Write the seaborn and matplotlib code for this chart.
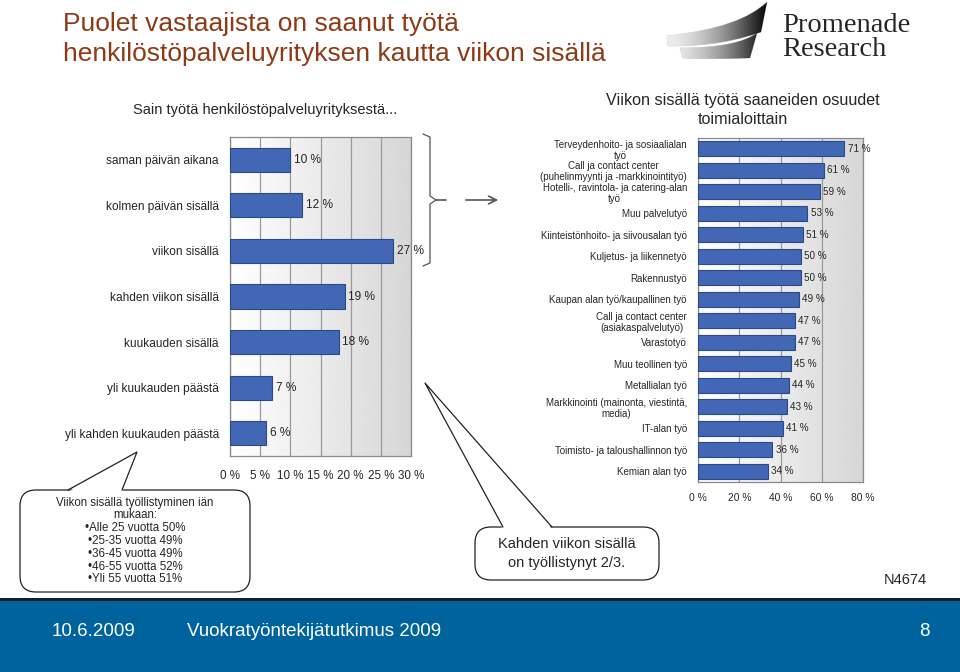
import numpy as np
import pandas as pd
import seaborn as sns
import matplotlib.pyplot as plt
from matplotlib import font_manager
from matplotlib.patches import FancyBboxPatch, Polygon, Rectangle, PathPatch
from matplotlib.path import Path

# Left chart data
time_labels = ["saman päivän aikana", "kolmen päivän sisällä", "viikon sisällä",
               "kahden viikon sisällä", "kuukauden sisällä", "yli kuukauden päästä",
               "yli kahden kuukauden päästä"]
time_values = [10, 12, 27, 19, 18, 7, 6]
time_ticks = [0, 5, 10, 15, 20, 25, 30]

# Right chart data
branch_labels = ["Terveydenhoito- ja sosiaalialan\ntyö",
                 "Call ja contact center\n(puhelinmyynti ja -markkinointityö)",
                 "Hotelli-, ravintola- ja catering-alan\ntyö",
                 "Muu palvelutyö",
                 "Kiinteistönhoito- ja siivousalan työ",
                 "Kuljetus- ja liikennetyö",
                 "Rakennustyö",
                 "Kaupan alan työ/kaupallinen työ",
                 "Call ja contact center\n(asiakaspalvelutyö)",
                 "Varastotyö",
                 "Muu teollinen työ",
                 "Metallialan työ",
                 "Markkinointi (mainonta, viestintä,\nmedia)",
                 "IT-alan työ",
                 "Toimisto- ja taloushallinnon työ",
                 "Kemian alan työ"]
branch_values = [71, 61, 59, 53, 51, 50, 50, 49, 47, 47, 45, 44, 43, 41, 36, 34]
branch_ticks = [0, 20, 40, 60, 80]

age_lines = ["Viikon sisällä työllistyminen iän", "mukaan:", "•Alle 25 vuotta 50%",
             "•25-35 vuotta 49%", "•36-45 vuotta 49%", "•46-55 vuotta 52%",
             "•Yli 55 vuotta 51%"]

BAR = "#4167B5"
EDGE = "#2A4A8A"
TITLE = "#8E3A17"

sns.set_style("white")
names = {f.name for f in font_manager.fontManager.ttflist}
narrow = "Liberation Sans Narrow" if "Liberation Sans Narrow" in names else "Liberation Sans"
plt.rcParams["font.family"] = ["Liberation Sans", "DejaVu Sans"]

fig = plt.figure(figsize=(9.6, 6.72), dpi=100)


def style_axes(ax, values, labels, ticks, xmax, label_size, val_size, tick_size, bar_w):
    df = pd.DataFrame({"label": labels, "value": values})
    sns.barplot(data=df, x="value", y="label", orient="h", ax=ax, color=BAR,
                edgecolor=EDGE, linewidth=0.8, width=bar_w, saturation=1, zorder=3)
    grad = np.linspace(1.0, 0.84, 256).reshape(1, -1)
    ax.imshow(grad, extent=[0, 1, 0, 1], transform=ax.transAxes, aspect="auto",
              cmap="gray", vmin=0, vmax=1, zorder=0)
    n = len(labels)
    ax.set_xlim(0, xmax)
    ax.set_ylim(n - 0.5, -0.5)
    ax.set_xticks(ticks)
    ax.set_xticklabels([f"{t} %" for t in ticks], fontsize=tick_size)
    for v in ticks:
        ax.axvline(v, color="#9a9a9a", linewidth=0.9, zorder=1)
    ax.set_yticks(range(n))
    ax.set_yticklabels(labels, fontsize=label_size, multialignment="center",
                       linespacing=1.1)
    ax.set_yticks(np.arange(n + 1) - 0.5, minor=True)
    ax.tick_params(axis="y", which="major", length=0, pad=8)
    ax.tick_params(axis="y", which="minor", length=4, color="#888888", direction="out")
    ax.tick_params(axis="x", length=4, color="#888888", direction="out", pad=6)
    ax.set_xlabel("")
    ax.set_ylabel("")
    for s in ax.spines.values():
        s.set_color("#8a8a8a")
        s.set_linewidth(0.9)
    for i, v in enumerate(values):
        ax.text(v + xmax * 0.02, i, f"{v} %", va="center", ha="left",
                fontsize=val_size, zorder=4)


ax1 = fig.add_axes([230 / 960, 1 - 456 / 672, 181 / 960, 319 / 672])
style_axes(ax1, time_values, time_labels, time_ticks, 30, 8.6, 8.6, 8.4, 0.53)

ax2 = fig.add_axes([698 / 960, 1 - 482 / 672, 165 / 960, 344 / 672])
style_axes(ax2, branch_values, branch_labels, branch_ticks, 80, 7.0, 7.1, 7.4, 0.7)
ax2.tick_params(axis="x", pad=4)

# overlay in pixel coordinates
ov = fig.add_axes([0, 0, 1, 1], zorder=10)
ov.set_xlim(0, 960)
ov.set_ylim(672, 0)
ov.axis("off")
ov.patch.set_alpha(0)

ov.text(63, 24, "Puolet vastaajista on saanut työtä", color=TITLE, fontsize=19,
        family=[narrow, "DejaVu Sans"], va="center")
ov.text(63, 54, "henkilöstöpalveluyrityksen kautta viikon sisällä", color=TITLE,
        fontsize=19, family=[narrow, "DejaVu Sans"], va="center")
ov.text(265, 110, "Sain työtä henkilöstöpalveluyrityksestä...", fontsize=10.5,
        ha="center", va="center", family=[narrow, "DejaVu Sans"])
ov.text(743, 101, "Viikon sisällä työtä saaneiden osuudet", fontsize=11.6,
        ha="center", va="center", family=[narrow, "DejaVu Sans"])
ov.text(743, 120, "toimialoittain", fontsize=11.6,
        ha="center", va="center", family=[narrow, "DejaVu Sans"])

# logo
top = Path([(667, 36), (720, 30), (750, 18), (767, 2), (761, 32), (725, 45), (690, 46),
            (668, 46), (667, 36)],
           [Path.MOVETO, Path.CURVE4, Path.CURVE4, Path.CURVE4, Path.LINETO,
            Path.CURVE4, Path.CURVE4, Path.CURVE4, Path.CLOSEPOLY])
bot = Path([(680, 48), (720, 48), (745, 42), (757, 33), (750, 58), (720, 59), (700, 59),
            (683, 58), (680, 48)],
           [Path.MOVETO, Path.CURVE4, Path.CURVE4, Path.CURVE4, Path.LINETO,
            Path.CURVE4, Path.CURVE4, Path.CURVE4, Path.CLOSEPOLY])
t = np.linspace(0, 1, 256)
lg = (0.93 - 0.93 * t ** 1.7).reshape(1, -1)
for p in (top, bot):
    pp = PathPatch(p, facecolor="none", edgecolor="#c8c8c8", linewidth=0.5)
    ov.add_patch(pp)
    im = ov.imshow(lg, extent=[665, 768, 62, 0], cmap="gray", vmin=0, vmax=1,
                   aspect="auto", zorder=5)
    im.set_clip_path(pp)
ov.set_xlim(0, 960)
ov.set_ylim(672, 0)
ov.text(782, 25, "Promenade", fontsize=20.5, family=["Liberation Serif", "DejaVu Serif"],
        va="center")
ov.text(782, 50, "Research", fontsize=20.5, family=["Liberation Serif", "DejaVu Serif"],
        va="center")

# bracket and arrow
ov.plot([423, 430, 430, 436, 430, 430, 423], [134, 137, 196, 200, 204, 263, 266],
        color="#555555", linewidth=0.9)
ov.plot([436, 446], [200, 200], color="#555555", linewidth=1.2)
ov.annotate("", xy=(501, 200), xytext=(463, 200),
            arrowprops=dict(arrowstyle="->", color="#555555", lw=1.2, mutation_scale=14))


def bubble(x0, y0, x1, y1, apex, b0, b1, lines, size, spacing):
    box = FancyBboxPatch((x0, y0), x1 - x0, y1 - y0,
                         boxstyle="round,pad=0,rounding_size=16",
                         facecolor="white", edgecolor="#222222", linewidth=0.9, zorder=6)
    ov.add_patch(box)
    tri = Polygon([apex, (b0, y0 + 2), (b1, y0 + 2)], closed=True, facecolor="white",
                  edgecolor="none", zorder=7)
    ov.add_patch(tri)
    ov.plot([b0, apex[0], b1], [y0, apex[1], y0], color="#222222", linewidth=0.9, zorder=8)
    cx = (x0 + x1) / 2
    cy = (y0 + y1) / 2
    n = len(lines)
    for i, s in enumerate(lines):
        ov.text(cx, cy + (i - (n - 1) / 2) * spacing, s, fontsize=size, ha="center",
                va="center", zorder=9, family=[narrow, "DejaVu Sans"])


bubble(20, 490, 250, 592, (137, 452), 68, 122, age_lines, 8.3, 12.8)
bubble(475, 527, 659, 580, (425, 383), 503, 552,
       ["Kahden viikon sisällä", "on työllistynyt 2/3."], 10.5, 18)

ov.text(905, 580, "N4674", fontsize=10.5, ha="center", va="center",
        family=[narrow, "DejaVu Sans"])

# footer
ov.add_patch(Rectangle((0, 598), 960, 74, facecolor="#00639E", edgecolor="none", zorder=2))
ov.plot([0, 960], [598.5, 598.5], color="#1b1b1b", linewidth=2, zorder=3)
for x, s, ha in [(52, "10.6.2009", "left"), (187, "Vuokratyöntekijätutkimus 2009", "left"),
                 (930, "8", "right")]:
    ov.text(x, 631, s, color="white", fontsize=13.5, ha=ha, va="center", zorder=4,
            family=[narrow, "DejaVu Sans"])

fig.savefig("out.png", dpi=100)
